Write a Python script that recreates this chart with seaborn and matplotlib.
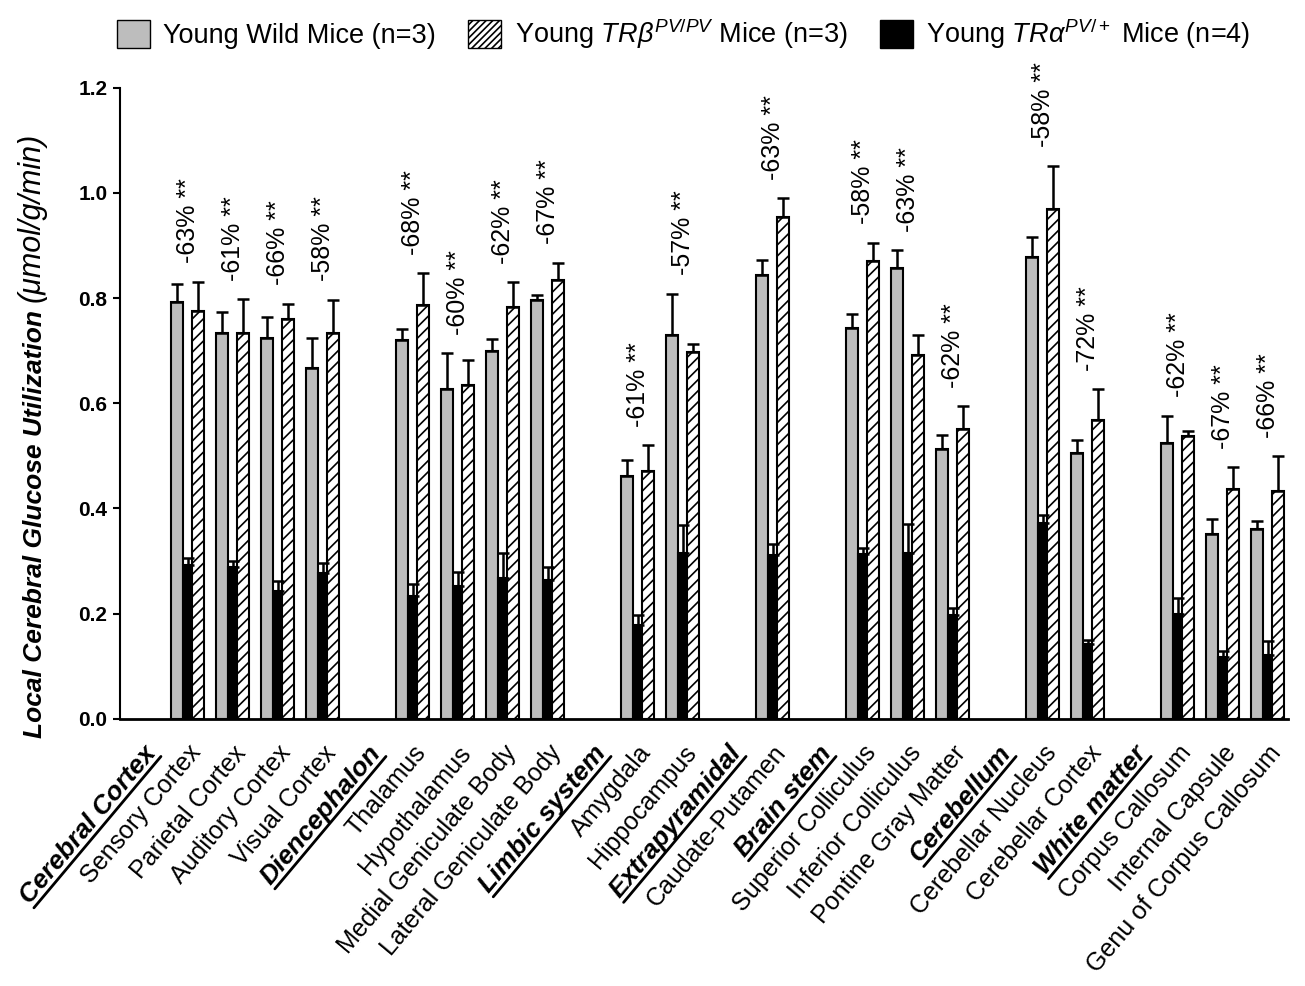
import numpy as np
import pandas as pd
import seaborn as sns
import matplotlib.pyplot as plt
from matplotlib.patches import Patch
from matplotlib.lines import Line2D
from matplotlib.ticker import FormatStrFormatter

# x axis slots: group headers (no bars) + brain structures
regions = ["Cerebral Cortex", "Sensory Cortex", "Parietal Cortex", "Auditory Cortex", "Visual Cortex",
           "Diencephalon", "Thalamus", "Hypothalamus", "Medial Geniculate Body", "Lateral Geniculate Body",
           "Limbic system", "Amygdala", "Hippocampus",
           "Extrapyramidal", "Caudate-Putamen",
           "Brain stem", "Superior Colliculus", "Inferior Colliculus", "Pontine Gray Matter",
           "Cerebellum", "Cerebellar Nucleus", "Cerebellar Cortex",
           "White matter", "Corpus Callosum", "Internal Capsule", "Genu of Corpus Callosum"]
headers = ["Cerebral Cortex", "Diencephalon", "Limbic system", "Extrapyramidal",
           "Brain stem", "Cerebellum", "White matter"]
structures = [r for r in regions if r not in headers]

# values (umol/g/min), mean and upper error
wild = [0.793, 0.734, 0.725, 0.667, 0.721, 0.628, 0.700, 0.797, 0.462, 0.729, 0.843,
        0.743, 0.857, 0.513, 0.879, 0.505, 0.525, 0.351, 0.360]
wild_err = [0.034, 0.040, 0.039, 0.058, 0.021, 0.067, 0.023, 0.009, 0.030, 0.079, 0.030,
            0.026, 0.034, 0.026, 0.037, 0.025, 0.051, 0.029, 0.017]
trb = [0.776, 0.734, 0.760, 0.734, 0.787, 0.634, 0.784, 0.834, 0.471, 0.697, 0.955,
       0.871, 0.691, 0.551, 0.970, 0.569, 0.538, 0.437, 0.433]
trb_err = [0.055, 0.064, 0.029, 0.063, 0.060, 0.048, 0.046, 0.033, 0.049, 0.016, 0.035,
           0.034, 0.038, 0.043, 0.082, 0.058, 0.009, 0.041, 0.066]
tra = [0.293, 0.289, 0.243, 0.278, 0.233, 0.253, 0.267, 0.263, 0.179, 0.316, 0.312,
       0.313, 0.316, 0.198, 0.372, 0.143, 0.199, 0.118, 0.122]
tra_err = [0.013, 0.011, 0.019, 0.019, 0.023, 0.027, 0.048, 0.025, 0.018, 0.052, 0.021,
           0.012, 0.054, 0.012, 0.016, 0.007, 0.031, 0.010, 0.026]
pct = [-63, -61, -66, -58, -68, -60, -62, -67, -61, -57, -63, -58, -63, -62, -58, -72, -62, -67, -66]

sns.set_style("ticks")
plt.rcParams["font.family"] = ["Liberation Sans", "DejaVu Sans"]
plt.rcParams["mathtext.fontset"] = "custom"
plt.rcParams["mathtext.rm"] = "Liberation Sans"
plt.rcParams["mathtext.it"] = "Liberation Sans:italic"
plt.rcParams["mathtext.bf"] = "Liberation Sans:bold"
plt.rcParams["hatch.linewidth"] = 1.2
for k in ["text.color", "axes.labelcolor", "xtick.color", "ytick.color", "axes.edgecolor"]:
    plt.rcParams[k] = "black"

GRAY = "#bdbdbd"
df = pd.DataFrame({
    "region": structures * 3,
    "group": ["Wild"] * len(structures) + ["TRb"] * len(structures) + ["TRa"] * len(structures),
    "value": wild + trb + tra,
})
errs = {"Wild": dict(zip(structures, wild_err)),
        "TRb": dict(zip(structures, trb_err)),
        "TRa": dict(zip(structures, tra_err))}

fig = plt.figure(figsize=(13.05, 9.86), dpi=100)
ax = fig.add_axes([0.092, 0.271, 0.895, 0.64])

sns.barplot(data=df, x="region", y="value", hue="group", order=regions,
            hue_order=["Wild", "TRa", "TRb"],
            palette={"Wild": GRAY, "TRa": "black", "TRb": "white"},
            saturation=1, width=0.8, edgecolor="black", linewidth=1.5,
            errorbar=None, legend=False, ax=ax)

# style bars: hatch, narrower black bar, upward error bars
for p in list(ax.patches):
    fc = p.get_facecolor()[:3]
    c = p.get_x() + p.get_width() / 2
    idx = int(round(c))
    if sum(fc) < 0.01:
        grp = "TRa"
        p.set_width(0.2)
        p.set_x(idx - 0.1)
    elif sum(fc) > 2.99:
        grp = "TRb"
        p.set_hatch("///")
        p.set_x(p.get_x() - 0.033)
    else:
        grp = "Wild"
        p.set_x(p.get_x() + 0.033)
    xc = p.get_x() + p.get_width() / 2
    e = errs[grp][regions[idx]]
    ax.errorbar(xc, p.get_height(), yerr=[[0], [e]], fmt="none", ecolor="black",
                elinewidth=1.8, capsize=4.5, capthick=1.8, zorder=3)

# percent change labels
for i, s in enumerate(structures):
    xi = regions.index(s)
    ytop = max(wild[i] + wild_err[i], trb[i] + trb_err[i]) + 0.035
    ax.text(xi, ytop, f"{pct[i]}% **", rotation=90, ha="center", va="bottom", fontsize=18)

ax.set_xlim(-0.5, 25.45)
ax.set_ylim(0, 1.2)
ax.set_yticks(np.arange(0, 1.21, 0.2))
ax.yaxis.set_major_formatter(FormatStrFormatter("%.1f"))
for t in ax.get_yticklabels():
    t.set_fontweight("bold")
    t.set_fontsize(15)
ax.set_xlabel("")
ax.set_ylabel("")
sns.despine(ax=ax)
ax.spines["left"].set_linewidth(1.5)
ax.spines["bottom"].set_linewidth(2)
ax.tick_params(axis="y", direction="out", length=5, width=1.5, pad=4)
ax.tick_params(axis="x", length=0, pad=16)

ax.set_xticks(range(len(regions)))
ax.set_xticklabels(regions, rotation=50, ha="right", va="top", rotation_mode="anchor", fontsize=18)
for t in ax.get_xticklabels():
    if t.get_text() in headers:
        t.set_fontweight("bold")
        t.set_fontstyle("italic")
        t.set_fontsize(19)

handles = [Patch(facecolor=GRAY, edgecolor="black", linewidth=1),
           Patch(facecolor="white", edgecolor="black", linewidth=1, hatch="/////"),
           Patch(facecolor="black", edgecolor="black", linewidth=1)]
labels = ["Young Wild Mice (n=3)",
          r"Young $TR\beta^{PV/PV}$ Mice (n=3)",
          r"Young $TR\alpha^{PV/+}$ Mice (n=4)"]
fig.legend(handles, labels, loc="upper center", bbox_to_anchor=(0.524, 1.008), ncol=3,
           frameon=False, fontsize=19.5, handlelength=1.2, handleheight=1.2,
           handletextpad=0.5, columnspacing=1.2)

fig.canvas.draw()
renderer = fig.canvas.get_renderer()
inv = fig.transFigure.inverted()

# y label: bold italic part + plain italic unit
yl1 = fig.text(0.036, 0.252, "Local Cerebral Glucose Utilization", rotation=90,
               ha="right", va="bottom", fontsize=19, fontweight="bold", fontstyle="italic")
fig.canvas.draw()
bb = yl1.get_window_extent(renderer)
ytop_fig = inv.transform((0, bb.y1))[1]
fig.text(0.036, ytop_fig + 0.008, "(\u03bcmol/g/min)", rotation=90, ha="right", va="bottom",
         fontsize=22, fontstyle="italic")

# underline the group headers
ang = np.radians(50)
for t in ax.get_xticklabels():
    if t.get_text() not in headers:
        continue
    bb = t.get_window_extent(renderer)
    w, h, d = renderer.get_text_width_height_descent(t.get_text(), t.get_fontproperties(), ismath=False)
    # bbox: width = L cos + H sin, height = L sin + H cos
    H = (bb.height - w * np.sin(ang)) / np.cos(ang)
    x0 = bb.x0 + H * np.sin(ang)
    y0 = bb.y0
    x1 = x0 + w * np.cos(ang)
    y1 = y0 + w * np.sin(ang)
    p0 = inv.transform((x0, y0))
    p1 = inv.transform((x1, y1))
    fig.add_artist(Line2D([p0[0], p1[0]], [p0[1], p1[1]], color="black", linewidth=2,
                          transform=fig.transFigure))

fig.savefig("out.png", dpi=100)
